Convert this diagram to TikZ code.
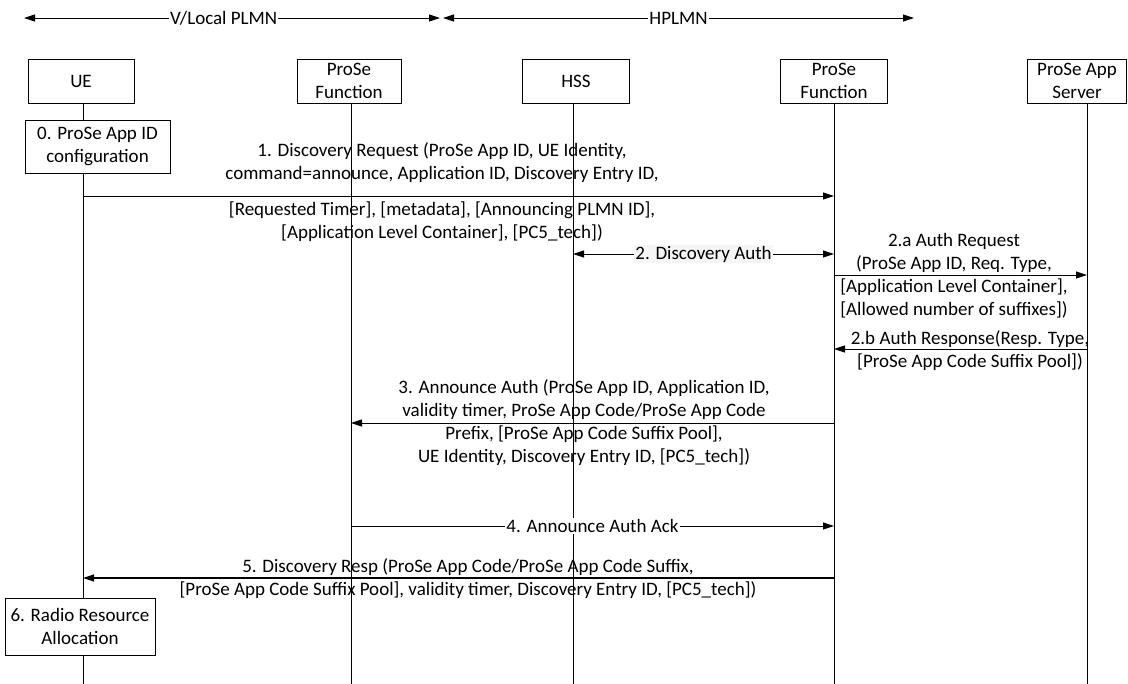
\documentclass[tikz,border=0pt]{standalone}
\usepackage{fontspec}
\setmainfont{Carlito}
\usetikzlibrary{arrows.meta}

\begin{document}
\begin{tikzpicture}[
       x=1pt, y=-1pt,
       line width=0.8pt,
       every node/.style={font=\fontsize{19}{23}\selectfont},
       actor/.style={
         draw,
         fill=white,
         align=center,
         inner sep=1pt,
         minimum height=44pt
       },
       stepbox/.style={draw, fill=white, align=center, inner sep=1pt},
       msg/.style={-{Triangle[length=11pt,width=7pt]}},
       twoway/.style={{Triangle[length=11pt,width=7pt]}-{Triangle[length=11pt,width=7pt]}},
       lbl/.style={align=center, inner sep=0pt},
       tag/.style={fill=white, inner sep=1pt}
     ]
\useasboundingbox (0,0) rectangle (1128,684);

\coordinate (vl1) at (24,18);
\coordinate (vl2) at (440,18);
\coordinate (hp1) at (443,18);
\coordinate (hp2) at (914,18);
\draw[twoway] (vl1) -- node[tag,pos=0.48] {V/Local PLMN} (vl2);
\draw[twoway] (hp1) -- node[tag] {HPLMN} (hp2);

\coordinate (ueend) at (83,684);
\coordinate (pf1end) at (351,684);
\coordinate (hssend) at (573,684);
\coordinate (pf2end) at (834,684);
\coordinate (asend) at (1087,684);

\draw (83,103) -- (ueend);
\draw (351,103) -- (pf1end);
\draw (573,103) -- (hssend);
\draw (834,103) -- (pf2end);
\draw (1087,103) -- (asend);

\node[actor,minimum width=106pt] (ue) at (81,81) {UE};
\node[actor,minimum width=104pt] (pf1) at (349,81) {ProSe\\Function};
\node[actor,minimum width=107pt] (hss) at (576,81) {HSS};
\node[actor,minimum width=107pt] (pf2) at (834,81) {ProSe\\Function};
\node[actor,minimum width=99pt] (as) at (1077,81) {ProSe App\\Server};

\node[stepbox,minimum width=145pt,minimum height=53pt] (s0) at (97.5,146.5) {0. ProSe App ID\\configuration};
\node[stepbox,minimum width=150pt,minimum height=57pt] (s6) at (80,626.5) {6. Radio Resource\\Allocation};

\coordinate (m1a) at (83,196);
\coordinate (m1b) at (834,196);
\coordinate (m2a) at (573,254);
\coordinate (m2b) at (834,254);
\coordinate (m3a) at (834,275);
\coordinate (m3b) at (1087,275);
\coordinate (m4a) at (1087,349);
\coordinate (m4b) at (834,349);
\coordinate (m5a) at (834,423);
\coordinate (m5b) at (351,423);
\coordinate (m6a) at (351,526);
\coordinate (m6b) at (834,526);
\coordinate (m7a) at (834,578);
\coordinate (m7b) at (83,578);

\draw[msg] (m1a) -- (m1b);
\node[lbl] (l1) at (442,162.5) {1. Discovery Request (ProSe App ID, UE Identity,\\command=announce, Application ID, Discovery Entry ID,};
\node[lbl] (l1b) at (442,221.5) {{[}Requested Timer], [metadata], [Announcing PLMN ID],\\{[}Application Level Container], [PC5\_tech])};

\draw[twoway] (m2a) -- node[tag,fill=gray!8] (l2) {2. Discovery Auth} (m2b);

\draw[msg] (m3a) -- (m3b);
\node[lbl] (l2a) at (954,275.5) {2.a Auth Request\\(ProSe App ID, Req. Type,\\{[}Application Level Container],\\{[}Allowed number of suffixes])};

\draw[msg] (m4a) -- (m4b);
\node[lbl] (l2b) at (970,351) {2.b Auth Response(Resp. Type,\\{[}ProSe App Code Suffix Pool])};

\draw[msg] (m5a) -- (m5b);
\node[lbl] (l3) at (584,423) {3. Announce Auth (ProSe App ID, Application ID,\\validity timer, ProSe App Code/ProSe App Code\\Prefix, [ProSe App Code Suffix Pool],\\UE Identity, Discovery Entry ID, [PC5\_tech])};

\draw[msg] (m6a) -- node[tag] (l4) {4. Announce Auth Ack} (m6b);

\draw[msg,line width=1.2pt] (m7a) -- (m7b);
\node[lbl] (l5) at (468,578.5) {5. Discovery Resp (ProSe App Code/ProSe App Code Suffix,\\{[}ProSe App Code Suffix Pool], validity timer, Discovery Entry ID, [PC5\_tech])};

\end{tikzpicture}
\end{document}
